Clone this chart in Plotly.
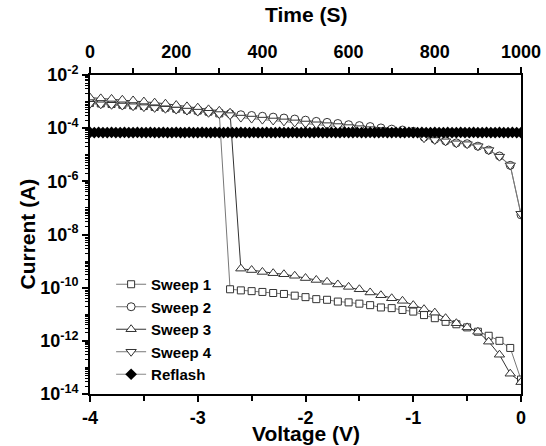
import plotly.graph_objects as go

# Voltage sweep (V), 0.1 V steps
voltage = [-4.0, -3.9, -3.8, -3.7, -3.6, -3.5, -3.4, -3.3, -3.2, -3.1,
           -3.0, -2.9, -2.8, -2.7, -2.6, -2.5, -2.4, -2.3, -2.2, -2.1,
           -2.0, -1.9, -1.8, -1.7, -1.6, -1.5, -1.4, -1.3, -1.2, -1.1,
           -1.0, -0.9, -0.8, -0.7, -0.6, -0.5, -0.4, -0.3, -0.2, -0.1, 0.0]

sweep1 = [8.9e-4, 8.5e-4, 8.1e-4, 7.6e-4, 7.2e-4, 6.8e-4, 6.3e-4, 5.9e-4, 5.4e-4, 5.0e-4,
          4.6e-4, 4.2e-4, 3.6e-4, 8.7e-11, 7.9e-11, 7.4e-11, 6.9e-11, 6.3e-11, 5.8e-11, 5.0e-11,
          4.4e-11, 3.7e-11, 3.5e-11, 3.0e-11, 2.8e-11, 2.5e-11, 2.2e-11, 1.8e-11, 1.7e-11, 1.45e-11,
          1.26e-11, 9.3e-12, 7.1e-12, 5.2e-12, 4.2e-12, 3.2e-12, 2.2e-12, 1.55e-12, 1.0e-12, 5.4e-13, 3.5e-14]

sweep2 = [9.0e-4, 8.6e-4, 8.2e-4, 7.8e-4, 7.3e-4, 6.9e-4, 6.4e-4, 6.0e-4, 5.5e-4, 5.0e-4,
          4.6e-4, 4.2e-4, 3.8e-4, 3.5e-4, 3.2e-4, 3.0e-4, 2.8e-4, 2.6e-4, 2.4e-4, 2.2e-4,
          2.0e-4, 1.8e-4, 1.65e-4, 1.5e-4, 1.35e-4, 1.25e-4, 1.15e-4, 1.02e-4, 9.2e-5, 8.5e-5,
          7.6e-5, 4.6e-5, 3.8e-5, 3.3e-5, 2.8e-5, 2.6e-5, 2.1e-5, 1.5e-5, 9.0e-6, 4.0e-6, 5.5e-8]

sweep3 = [1.41e-3, 1.32e-3, 1.26e-3, 1.17e-3, 1.10e-3, 1.0e-3, 9.1e-4, 8.3e-4, 7.4e-4, 6.6e-4,
          5.9e-4, 5.1e-4, 4.5e-4, 3.8e-4, 5.2e-10, 4.6e-10, 3.9e-10, 3.5e-10, 3.2e-10, 2.8e-10,
          2.3e-10, 1.95e-10, 1.66e-10, 1.32e-10, 1.07e-10, 8.7e-11, 6.6e-11, 5.2e-11, 4.0e-11, 3.2e-11,
          2.2e-11, 1.55e-11, 1.15e-11, 7.1e-12, 4.6e-12, 3.2e-12, 2.2e-12, 9.3e-13, 3.0e-13, 5.8e-14, 2.8e-14]

sweep4 = [8.3e-4, 7.9e-4, 7.6e-4, 7.1e-4, 6.7e-4, 6.2e-4, 5.8e-4, 5.4e-4, 5.0e-4, 4.6e-4,
          4.2e-4, 3.8e-4, 3.4e-4, 3.1e-4, 2.5e-4, 2.3e-4, 2.1e-4, 1.95e-4, 1.8e-4, 1.65e-4,
          1.5e-4, 1.4e-4, 1.3e-4, 1.2e-4, 1.1e-4, 1.0e-4, 9.2e-5, 8.5e-5, 7.8e-5, 7.0e-5,
          6.3e-5, 4.2e-5, 3.6e-5, 3.2e-5, 2.7e-5, 2.5e-5, 2.1e-5, 1.5e-5, 8.5e-6, 4.0e-6, 6.0e-8]

# Reflash: current read every 10 s (top time axis)
reflash_time = [0, 10, 20, 30, 40, 50, 60, 70, 80, 90, 100, 110, 120, 130, 140, 150, 160, 170, 180, 190,
                200, 210, 220, 230, 240, 250, 260, 270, 280, 290, 300, 310, 320, 330, 340, 350, 360, 370, 380, 390,
                400, 410, 420, 430, 440, 450, 460, 470, 480, 490, 500, 510, 520, 530, 540, 550, 560, 570, 580, 590,
                600, 610, 620, 630, 640, 650, 660, 670, 680, 690, 700, 710, 720, 730, 740, 750, 760, 770, 780, 790,
                800, 810, 820, 830, 840, 850, 860, 870, 880, 890, 900, 910, 920, 930, 940, 950, 960, 970, 980, 990, 1000]
reflash = [6.9e-5, 6.8e-5, 6.9e-5, 6.8e-5, 6.8e-5, 6.9e-5, 6.8e-5, 6.8e-5, 6.9e-5, 6.8e-5,
           6.8e-5, 6.9e-5, 6.8e-5, 6.8e-5, 6.9e-5, 6.8e-5, 6.8e-5, 6.9e-5, 6.8e-5, 6.8e-5,
           6.9e-5, 6.8e-5, 6.8e-5, 6.9e-5, 6.8e-5, 6.8e-5, 6.9e-5, 6.8e-5, 6.8e-5, 6.9e-5,
           6.8e-5, 6.8e-5, 6.9e-5, 6.8e-5, 6.8e-5, 6.9e-5, 6.8e-5, 6.8e-5, 6.9e-5, 6.8e-5,
           6.8e-5, 6.9e-5, 6.8e-5, 6.8e-5, 6.9e-5, 6.8e-5, 6.8e-5, 6.9e-5, 6.8e-5, 6.8e-5,
           6.9e-5, 6.8e-5, 6.8e-5, 6.9e-5, 6.8e-5, 6.8e-5, 6.9e-5, 6.8e-5, 6.8e-5, 6.9e-5,
           6.8e-5, 6.8e-5, 6.9e-5, 6.8e-5, 6.8e-5, 6.9e-5, 6.8e-5, 6.8e-5, 6.9e-5, 6.8e-5,
           6.8e-5, 6.9e-5, 6.8e-5, 6.8e-5, 6.9e-5, 6.8e-5, 6.8e-5, 6.9e-5, 6.8e-5, 6.8e-5,
           6.9e-5, 6.8e-5, 6.8e-5, 6.9e-5, 6.8e-5, 6.8e-5, 6.9e-5, 6.8e-5, 6.8e-5, 6.9e-5,
           6.8e-5, 6.8e-5, 6.9e-5, 6.8e-5, 6.8e-5, 6.9e-5, 6.8e-5, 6.8e-5, 6.9e-5, 6.8e-5, 6.8e-5]

ytick_vals = [1e-14, 1e-12, 1e-10, 1e-8, 1e-6, 1e-4, 1e-2]
ytick_text = ['10<sup>-14</sup>', '10<sup>-12</sup>', '10<sup>-10</sup>', '10<sup>-8</sup>',
              '10<sup>-6</sup>', '10<sup>-4</sup>', '10<sup>-2</sup>']

FONT = 'Liberation Sans, Arial, sans-serif'

fig = go.Figure()

sweeps = [
    ('Sweep 1', sweep1, 'square', 7, '#777777'),
    ('Sweep 2', sweep2, 'circle', 8, '#777777'),
    ('Sweep 3', sweep3, 'triangle-up', 9, '#333333'),
    ('Sweep 4', sweep4, 'triangle-down', 9, '#777777'),
]
for name, values, symbol, size, lcolor in sweeps:
    fig.add_trace(go.Scatter(
        x=voltage, y=values, mode='lines+markers', name=name,
        line=dict(color=lcolor, width=1),
        marker=dict(symbol=symbol, size=size, color='white',
                    line=dict(color='#333333', width=1)),
    ))

fig.add_trace(go.Scatter(
    x=reflash_time, y=reflash, mode='lines+markers', name='Reflash', xaxis='x2',
    line=dict(color='#888888', width=1),
    marker=dict(symbol='diamond', size=9, color='black', line=dict(color='black', width=0)),
))

axis_common = dict(showline=True, linecolor='black', linewidth=2, showgrid=False, zeroline=False,
                   ticks='outside', tickcolor='black', tickwidth=2, ticklen=6, automargin=False)

fig.update_layout(
    width=546, height=446,
    margin=dict(l=90, r=25, t=75, b=52),
    paper_bgcolor='white', plot_bgcolor='white',
    font=dict(family=FONT, size=18, color='black', weight='bold'),
    showlegend=True,
    legend=dict(x=0.049, y=0.395, xanchor='left', yanchor='top',
                bgcolor='rgba(0,0,0,0)', font=dict(size=15, weight='bold'),
                itemwidth=30),
    xaxis=dict(range=[-4, 0], tickvals=[-4, -3, -2, -1, 0], ticktext=['-4', '-3', '-2', '-1', '0'],
               minor=dict(tickvals=[-3.5, -2.5, -1.5, -0.5], ticks='outside', ticklen=5,
                          tickwidth=2, tickcolor='black'),
               tickfont=dict(size=18, weight='bold'), **axis_common),
    xaxis2=dict(range=[0, 1000], overlaying='x', side='top', dtick=200,
                minor=dict(dtick=100, ticks='outside', ticklen=5, tickwidth=2, tickcolor='black'),
                ticklabelstandoff=2,
                tickfont=dict(size=18, weight='bold'), **axis_common),
    yaxis=dict(type='log', range=[-14, -2], tickvals=ytick_vals, ticktext=ytick_text,
               minor=dict(tickvals=[k * 10.0 ** e for e in range(-14, -2) for k in range(2, 10)]
                          + [10.0 ** e for e in range(-13, -2, 2)],
                          ticks='outside', ticklen=3, tickwidth=1, tickcolor='black'),
               mirror=True,
               tickfont=dict(size=18, weight='bold'), **axis_common),
)

# Axis titles placed as annotations so their spacing matches the original
title_font = dict(family=FONT, size=21, color='black', weight='bold')
fig.add_annotation(text='Voltage (V)', x=0.5, y=0, xref='paper', yref='paper',
                   xanchor='center', yanchor='middle', yshift=-39, showarrow=False, font=title_font)
fig.add_annotation(text='Time (S)', x=0.5, y=1, xref='paper', yref='paper',
                   xanchor='center', yanchor='middle', yshift=61, showarrow=False, font=title_font)
fig.add_annotation(text='Current (A)', x=0, y=0.5, xref='paper', yref='paper', textangle=-90,
                   xanchor='center', yanchor='middle', xshift=-63, showarrow=False, font=title_font)

# the page's default body margin would push the 546x446 figure out of the window
fig.write_html('out.html', config={'displayModeBar': False},
               post_script="document.body.style.margin = '0';")
